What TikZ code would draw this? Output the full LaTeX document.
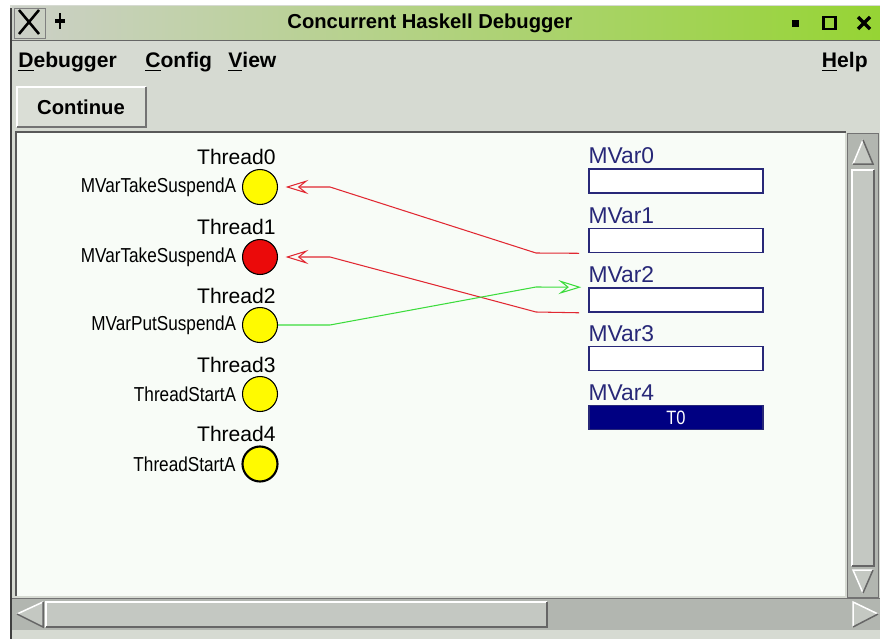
\documentclass[tikz,border=0pt]{standalone}
\usepackage{fontspec}
\setmainfont{Liberation Sans}
\newfontfamily\condfont[FakeStretch=0.85]{Liberation Sans}
\usetikzlibrary{positioning,arrows.meta}

\definecolor{winbg}{RGB}{214,218,210}
\definecolor{canvasbg}{RGB}{248,252,247}
\definecolor{trough}{RGB}{178,182,176}
\definecolor{thumbgray}{RGB}{196,200,194}
\definecolor{titleL}{RGB}{204,208,200}
\definecolor{titleR}{RGB}{150,212,52}
\definecolor{mvblue}{RGB}{40,40,120}
\definecolor{mvfill}{RGB}{0,0,130}
\definecolor{thyellow}{RGB}{255,250,0}
\definecolor{thred}{RGB}{235,10,10}
\definecolor{arrred}{RGB}{225,40,50}
\definecolor{arrgreen}{RGB}{60,220,60}

\tikzset{
  thread/.style={circle, draw, line width=0.6pt, minimum size=0.7cm, inner sep=0pt},
  tname/.style={font=\fontsize{12}{14}\selectfont, inner sep=0pt},
  tstate/.style={font=\condfont\fontsize{11.5}{13}\selectfont, inner sep=0pt},
  mvbox/.style={draw=mvblue, line width=0.9pt, fill=white, minimum width=3.48cm, minimum height=0.48cm, inner sep=0pt},
  mvname/.style={text=mvblue, font=\fontsize{13}{15}\selectfont, inner sep=0pt},
  menu/.style={font=\bfseries\fontsize{12}{14}\selectfont, inner sep=0pt},
  tkarrow/.style={line width=0.6pt, -{Stealth[open,length=13pt,width=8pt,inset=5pt]}},
}

\begin{document}
\begin{tikzpicture}[x=0.02cm, y=-0.02cm]
  \useasboundingbox (0,0) rectangle (880,639);

  % window and title bar
  \fill[white] (0,0) rectangle (880,639);
  \fill[winbg] (10,5) rectangle (880,639);
  \draw[black!75, line width=0.04cm] (11,8) -- (11,639);
  \shade[left color=titleL, right color=titleR] (12,6) rectangle (880,40);
  \draw[black!60] (12,40) -- (880,40);
  \draw[black!50] (14,8) rectangle (45,38);
  \draw[line width=0.05cm] (19,10) -- (39,34) (39,10) -- (19,34);
  \draw[line width=0.03cm] (60,13) -- (60,29);
  \fill (55,19) rectangle (65,23);
  \fill (792,20) rectangle (799,27);
  \draw[line width=0.06cm] (823,17) rectangle (835,29);
  \draw[line width=0.07cm] (858,17) -- (870,29) (870,17) -- (858,29);
  \node[font=\bfseries\fontsize{11.5}{13}\selectfont] (title) at (430,23) {Concurrent Haskell Debugger};

  % menu bar
  \node[menu, anchor=west] (mdebug) at (18,62) {\underline{D}ebugger};
  \node[menu, anchor=west] (mconfig) at (145,62) {\underline{C}onfig};
  \node[menu, anchor=west] (mview) at (228,62) {\underline{V}iew};
  \node[menu, anchor=east] (mhelp) at (868,62) {\underline{H}elp};

  % continue button
  \fill[winbg!90!white] (17,87) rectangle (146,127);
  \draw[white, line width=0.04cm] (17,127) -- (17,87) -- (146,87);
  \draw[black!55, line width=0.04cm] (17,127) -- (146,127) -- (146,87);
  \node[menu, font=\bfseries\fontsize{11.5}{13}\selectfont] (cont) at (81,107) {Continue};

  % canvas
  \fill[canvasbg] (17,133) rectangle (845,596);
  \draw[black!65, line width=0.04cm] (16,596) -- (16,132) -- (846,132);

  % vertical scrollbar
  \fill[trough] (847,133) rectangle (878,597);
  \draw[black!55] (847,133) rectangle (878,597);
  \fill[thumbgray] (863,140) -- (853,164) -- (873,164) -- cycle;
  \draw[white, line width=0.03cm] (853,164) -- (863,140);
  \draw[black!60, line width=0.03cm] (863,140) -- (873,164) -- (853,164);
  \fill[thumbgray] (852,170) rectangle (874,566);
  \draw[white, line width=0.03cm] (852,566) -- (852,170) -- (874,170);
  \draw[black!60, line width=0.03cm] (852,566) -- (874,566) -- (874,170);
  \fill[thumbgray] (853,570) -- (873,570) -- (863,593) -- cycle;
  \draw[white, line width=0.03cm] (863,593) -- (853,570) -- (873,570);
  \draw[black!60, line width=0.03cm] (873,570) -- (863,593);

  % horizontal scrollbar
  \fill[trough] (12,598) rectangle (880,630);
  \draw[black!55] (12,598) -- (880,598);
  \fill[thumbgray] (17,614) -- (43,602) -- (43,627) -- cycle;
  \draw[white, line width=0.03cm] (17,614) -- (43,602);
  \draw[black!60, line width=0.03cm] (43,602) -- (43,627) -- (17,614);
  \fill[thumbgray] (46,602) rectangle (547,627);
  \draw[white, line width=0.03cm] (46,627) -- (46,602) -- (547,602);
  \draw[black!60, line width=0.03cm] (46,627) -- (547,627) -- (547,602);
  \fill[thumbgray] (853,602) -- (878,614) -- (853,627) -- cycle;
  \draw[white, line width=0.03cm] (853,627) -- (853,602) -- (878,614);
  \draw[black!60, line width=0.03cm] (878,614) -- (853,627);

  % threads
  \node[thread, fill=thyellow] (t0) at (260,187) {};
  \node[thread, fill=thred] (t1) at (260,257) {};
  \node[thread, fill=thyellow] (t2) at (260,325) {};
  \node[thread, fill=thyellow] (t3) at (260,394) {};
  \node[thread, fill=thyellow, line width=1.2pt] (t4) at (260,464) {};
  \node[tname, anchor=east] (n0) at (276,157) {Thread0};
  \node[tname, anchor=east] (n1) at (276,227) {Thread1};
  \node[tname, anchor=east] (n2) at (276,296) {Thread2};
  \node[tname, anchor=east] (n3) at (276,365) {Thread3};
  \node[tname, anchor=east] (n4) at (276,434) {Thread4};
  \node[tstate, left=0.11cm of t0] (s0) {MVarTakeSuspendA};
  \node[tstate, left=0.11cm of t1] (s1) {MVarTakeSuspendA};
  \node[tstate, left=0.11cm of t2] (s2) {MVarPutSuspendA};
  \node[tstate, left=0.11cm of t3] (s3) {ThreadStartA};
  \node[tstate, left=0.11cm of t4] (s4) {ThreadStartA};

  % mvars
  \node[mvbox] (m0) at (676,181) {};
  \node[mvbox] (m1) at (676,240.5) {};
  \node[mvbox] (m2) at (676,300) {};
  \node[mvbox] (m3) at (676,358.5) {};
  \node[mvbox, fill=mvfill, text=white, font=\condfont\fontsize{11}{12}\selectfont] (m4) at (676,417.5) {T0};
  \node[mvname, anchor=south west] (v0) at ([yshift=0.08cm]m0.north west) {MVar0};
  \node[mvname, anchor=south west] (v1) at ([yshift=0.08cm]m1.north west) {MVar1};
  \node[mvname, anchor=south west] (v2) at ([yshift=0.08cm]m2.north west) {MVar2};
  \node[mvname, anchor=south west] (v3) at ([yshift=0.08cm]m3.north west) {MVar3};
  \node[mvname, anchor=south west] (v4) at ([yshift=0.08cm]m4.north west) {MVar4};

  % blocked / waiting arrows
  \draw[tkarrow, arrred] ([xshift=-0.18cm]m1.south west) -- (536,253) -- (330,187) -- ([xshift=0.15cm]t0.east);
  \draw[tkarrow, arrred] ([xshift=-0.18cm]m2.south west) -- (536,312) -- (330,257) -- ([xshift=0.15cm]t1.east);
  \draw[tkarrow, arrgreen] (t2.east) -- (330,325) -- (536,287) -- ([xshift=-0.14cm]m2.north west);
\end{tikzpicture}
\end{document}
